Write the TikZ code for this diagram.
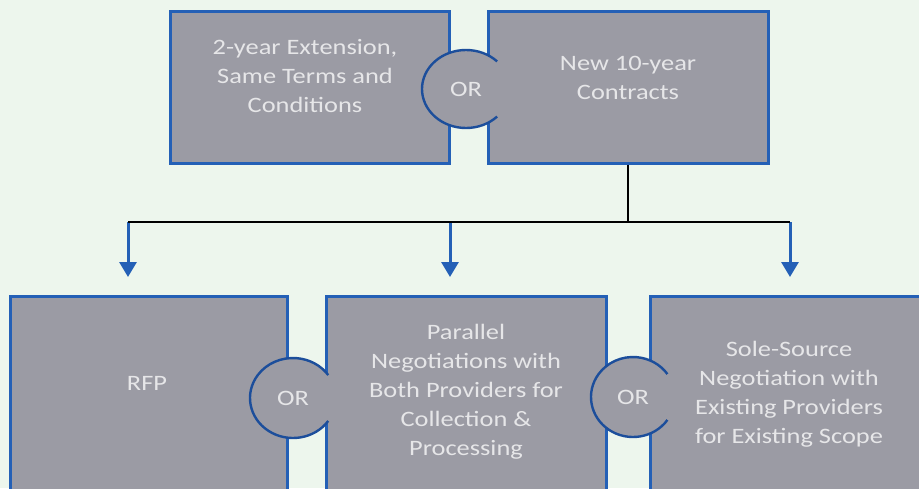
\documentclass[tikz,border=0pt]{standalone}
\usepackage{fontspec}
\setmainfont{Carlito}[FakeStretch=1.2]
\usetikzlibrary{arrows.meta,shapes.geometric}
\definecolor{bgmint}{RGB}{237,246,237}
\definecolor{boxgray}{RGB}{155,155,164}
\definecolor{boxblue}{RGB}{36,96,182}
\definecolor{ringblue}{RGB}{28,78,155}
\definecolor{txtgray}{RGB}{230,230,232}

\begin{document}
\begin{tikzpicture}[x=1pt,y=-1pt,
    box/.style={rectangle,draw=boxblue,line width=3pt,fill=boxgray,inner sep=0pt},
    boxtext/.style={text=txtgray,align=center,font=\fontsize{22}{29}\selectfont},
    ornode/.style={ellipse,fill=boxgray,inner sep=0pt,text=txtgray,font=\fontsize{22}{29}\selectfont},
    orring/.style={draw=ringblue,line width=2.4pt},
    feed/.style={draw=black,line width=1.8pt},
    drop/.style={draw=boxblue,line width=3pt,-{Triangle[width=17pt,length=15pt]},shorten >=18pt}]

    %%%%% frame %%%%%
    \useasboundingbox (0,0) rectangle (919,488);
    \fill[bgmint] (0,0) rectangle (919,488);

    %%%%% top row %%%%%
    \node[box,minimum width=279,minimum height=152] (ext) at (309.5,87) {};
    \node[box,minimum width=280,minimum height=152] (new) at (628,87) {};
    \node[boxtext] (exttxt) at (305,76) {2-year Extension,\\Same Terms and\\Conditions};
    \node[boxtext] (newtxt) at (628,78) {New 10-year\\Contracts};

    \node[ornode,minimum width=88,minimum height=78] (ortop) at (466,89) {OR};
    \draw[orring] (ortop.center) ++(45:44 and 39) arc (45:315:44 and 39);

    %%%%% bottom row %%%%%
    \node[box,minimum width=277,minimum height=220,anchor=north] (rfp) at (148.5,295) {};
    \node[box,minimum width=280,minimum height=220,anchor=north] (par) at (466,295) {};
    \node[box,minimum width=278,minimum height=220,anchor=north] (sole) at (789,295) {};
    \node[boxtext] (rfptxt) at (147,383) {RFP};
    \node[boxtext] (partxt) at (466,392) {Parallel\\Negotiations with\\Both Providers for\\Collection \&\\Processing};
    \node[boxtext] (soletxt) at (789,394) {Sole-Source\\Negotiation with\\Existing Providers\\for Existing Scope};

    \node[ornode,minimum width=86,minimum height=80] (orleft) at (293,398) {OR};
    \draw[orring] (orleft.center) ++(35:43 and 40) arc (35:325:43 and 40);
    \node[ornode,minimum width=84,minimum height=80] (orright) at (633,397) {OR};
    \draw[orring] (orright.center) ++(35:42 and 40) arc (35:325:42 and 40);

    %%%%% connectors %%%%%
    \coordinate (fork) at (628,222);
    \coordinate (tapl) at (128,222);
    \coordinate (tapm) at (450,222);
    \coordinate (tapr) at (790,222);

    \draw[drop] (tapl) -- (tapl |- rfp.north);
    \draw[drop] (tapm) -- (tapm |- par.north);
    \draw[drop] (tapr) -- (tapr |- sole.north);
    \draw[feed] (new.south) -- (fork);
    \draw[feed] (tapl) -- (tapr);

\end{tikzpicture}
\end{document}
